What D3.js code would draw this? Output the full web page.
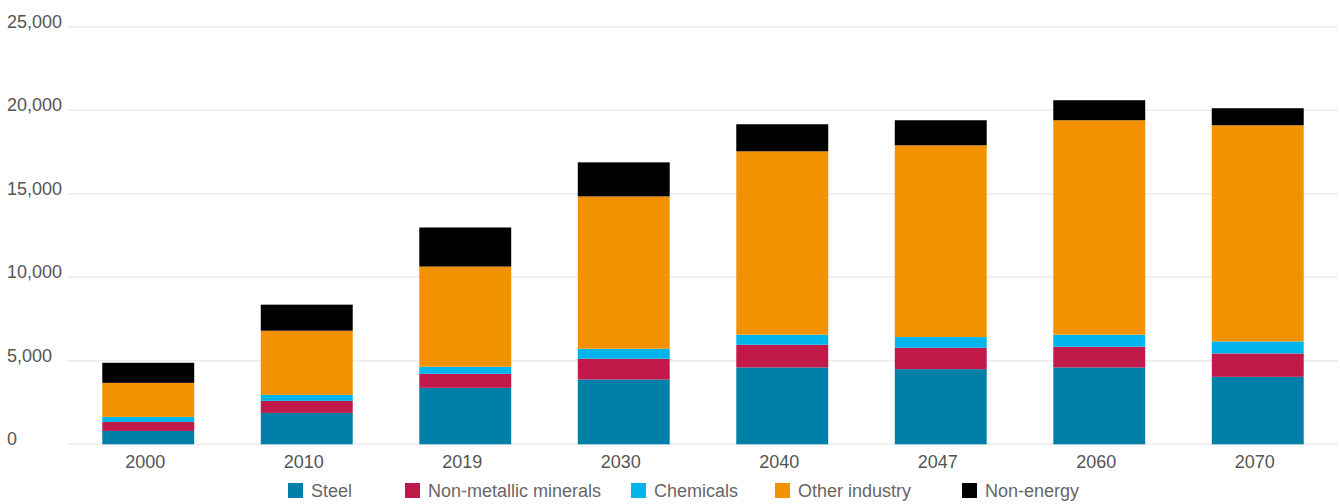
<!DOCTYPE html>
<html>
<head>
<meta charset="utf-8">
<script src="https://cdn.jsdelivr.net/npm/d3@7"></script>
<style>
  html, body { margin: 0; padding: 0; background: #ffffff; }
  svg { display: block; font-family: "Liberation Sans", Arial, sans-serif; }
</style>
</head>
<body>
<svg id="chart" width="1340" height="504"></svg>
<script>
// Categories (years) and stacked series values
const years = ["2000", "2010", "2019", "2030", "2040", "2047", "2060", "2070"];
const seriesNames = ["Steel", "Non-metallic minerals", "Chemicals", "Other industry", "Non-energy"];
const steel      = [800,  1880, 3380, 3880, 4600, 4500, 4600, 4040];
const nonMetal   = [540,  720,  840,  1240, 1360, 1280, 1240, 1400];
const chemicals  = [300,  360,  420,  600,  600,  640,  720,  720];
const otherInd   = [2040, 3840, 6000, 9120, 10980, 11480, 12840, 12940];
const nonEnergy  = [1200, 1560, 2340, 2040, 1620, 1500, 1200, 1020];
const yTicks = [0, 5000, 10000, 15000, 20000, 25000];

const colors = ["#0080a8", "#c0194a", "#00b4ec", "#f29200", "#000000"];
const seriesValues = [steel, nonMetal, chemicals, otherInd, nonEnergy];

// Build rows for d3.stack
const rows = years.map((yr, i) => {
  const r = { year: yr };
  seriesNames.forEach((s, k) => { r[s] = seriesValues[k][i]; });
  return r;
});
const stacked = d3.stack().keys(seriesNames)(rows);

const svg = d3.select("#chart");
const plotLeft = 67, plotRight = 1338;

const x = d3.scaleBand()
  .domain(years)
  .range([69, 1337])
  .paddingInner(0.42)
  .paddingOuter(0.21);

const y = d3.scaleLinear()
  .domain([0, 25000])
  .range([444.3, 26.7]);

// Horizontal gridlines
svg.append("g")
  .selectAll("line")
  .data(yTicks)
  .join("line")
  .attr("x1", plotLeft)
  .attr("x2", plotRight)
  .attr("y1", d => y(d))
  .attr("y2", d => y(d))
  .attr("stroke", "#ececec")
  .attr("stroke-width", 1.5);

// Y axis labels (left aligned at the page edge)
svg.append("g")
  .selectAll("text")
  .data(yTicks)
  .join("text")
  .attr("x", 7)
  .attr("y", d => y(d) + 1)
  .attr("fill", "#555555")
  .attr("font-size", "18px")
  .text(d => d3.format(",")(d));

// Stacked bars
svg.append("g")
  .selectAll("g")
  .data(stacked)
  .join("g")
  .attr("fill", (d, i) => colors[i])
  .selectAll("rect")
  .data(d => d)
  .join("rect")
  .attr("x", d => x(d.data.year))
  .attr("width", x.bandwidth())
  .attr("y", d => y(d[1]))
  .attr("height", d => y(d[0]) - y(d[1]));

// X axis labels
const xAxis = d3.axisBottom(x).tickSize(0).tickPadding(0);
const gx = svg.append("g")
  .attr("transform", "translate(-3, 467.5)")
  .call(xAxis);
gx.select(".domain").remove();
gx.selectAll("text")
  .attr("dy", 0)
  .attr("y", 0)
  .attr("fill", "#555555")
  .attr("font-size", "18px")
  .attr("font-family", "\"Liberation Sans\", Arial, sans-serif");

// Legend
const legendX = [288, 405, 631, 775, 962];
const legend = svg.append("g")
  .selectAll("g")
  .data(seriesNames)
  .join("g")
  .attr("transform", (d, i) => `translate(${legendX[i]}, 483)`);
legend.append("rect")
  .attr("width", 15)
  .attr("height", 15)
  .attr("fill", (d, i) => colors[i]);
legend.append("text")
  .attr("x", 23)
  .attr("y", 14)
  .attr("fill", "#666666")
  .attr("font-size", "18px")
  .text(d => d);
</script>
</body>
</html>
